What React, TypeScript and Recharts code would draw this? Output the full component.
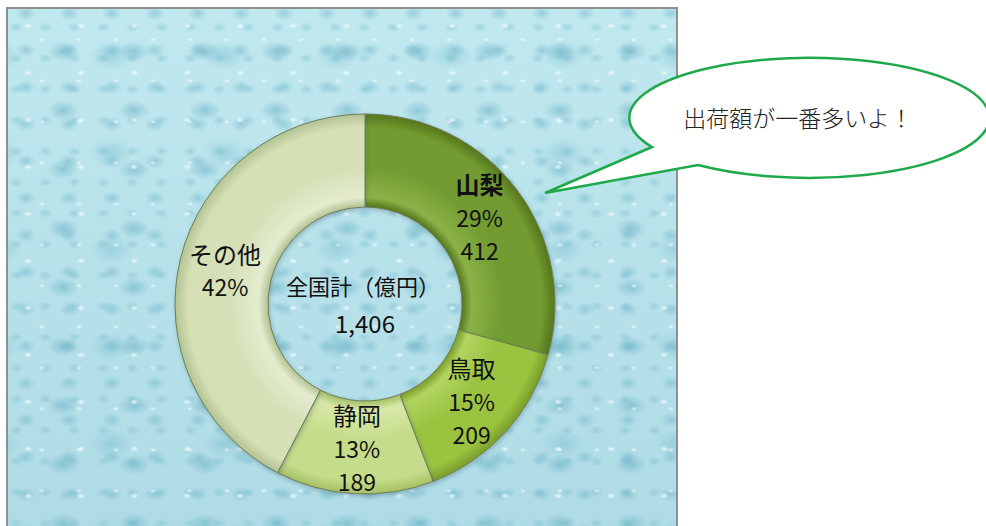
import { Cell, Pie, PieChart } from 'recharts';

const CATEGORIES = ['山梨', '鳥取', '静岡', 'その他'];
const VALUES = [412, 209, 189, 596];
const SHOW_VALUE = [true, true, true, false];
const CENTER_TITLE = '全国計（億円）';
const BUBBLE_TEXT = '出荷額が一番多いよ！';

const data = CATEGORIES.map((name, i) => ({ name, value: VALUES[i], showValue: SHOW_VALUE[i] }));
const TOTAL = VALUES.reduce((a, b) => a + b, 0);

const W = 986;
const H = 526;
const CX = 365;
const CY = 304;
const INNER = 97;
const OUTER = 190;
const LABEL_R = 144;
const FONT = '"Noto Sans CJK JP", "Noto Sans", sans-serif';

// edge / body / highlight per slice, used by the bevel gradients
const SHADES = [
  ['#55751d', '#729c31', '#8bb247'],
  ['#7a9d29', '#9ac341', '#b2d460'],
  ['#a6c066', '#c5dc8a', '#d8e9a8'],
  ['#b3c393', '#d5e0b6', '#e4ecce'],
];

const RAD = Math.PI / 180;

function renderLabel(props: any) {
  const { midAngle, index, value, percent } = props;
  const x = CX + LABEL_R * Math.cos(-midAngle * RAD);
  const y = CY + LABEL_R * Math.sin(-midAngle * RAD);
  const d = data[index];
  const lines = [d.name, `${Math.round(percent * 100)}%`];
  if (d.showValue) lines.push(String(value));
  const step = 33;
  const top = y - ((lines.length - 1) * step) / 2;
  return (
    <g key={`lbl-${index}`}>
      {lines.map((t, k) => (
        <text
          key={k}
          x={x}
          y={top + k * step}
          textAnchor="middle"
          dominantBaseline="central"
          fontFamily={FONT}
          fontSize={k === 0 ? 24 : 23}
          fontWeight={k === 0 && index === 0 ? 700 : 400}
          fill="#111"
        >
          {t}
        </text>
      ))}
    </g>
  );
}

const drop = (w: number, h: number, x: string, y: string, c: string, a: number) =>
  `radial-gradient(ellipse ${w}px ${h}px at ${x} ${y}, rgba(${c},${a}), rgba(${c},0) 72%)`;

const bgStyle: React.CSSProperties = {
  position: 'absolute',
  left: 6,
  top: 7,
  width: 672,
  height: 540,
  border: '2px solid #8f8f8f',
  backgroundColor: '#b6e2ea',
  backgroundImage: [
    drop(6, 4, '38%', '36%', '245,254,255', 0.85),
    drop(5, 3, '62%', '58%', '245,254,255', 0.7),
    drop(22, 14, '45%', '50%', '96,170,190', 0.5),
    drop(14, 10, '30%', '60%', '104,176,196', 0.45),
    drop(30, 20, '55%', '45%', '110,182,200', 0.4),
    drop(10, 7, '70%', '30%', '120,188,204', 0.45),
    'linear-gradient(180deg, #c0e8ef 0%, #aedbe5 100%)',
  ].join(','),
  backgroundSize: '53px 47px, 37px 41px, 71px 59px, 43px 37px, 113px 97px, 29px 31px, 100% 100%',
  backgroundPosition: '0 0, 11px 7px, 23px 13px, 5px 19px, 41px 3px, 17px 9px, 0 0',
  boxSizing: 'border-box',
};

// speech bubble outline: ellipse with a tail pointing at the 山梨 slice
const BUBBLE = { rx: 180, ry: 60 };
const bubblePath =
  `M 652 147 L 545 193 L 698 165 ` +
  `A ${BUBBLE.rx} ${BUBBLE.ry} 0 1 0 652 147 Z`;

export default function App() {
  return (
    <div style={{ position: 'absolute', left: 0, top: 0, width: W, height: H, overflow: 'hidden', background: '#fff' }}>
      <div style={bgStyle} />
      <div style={{ position: 'absolute', left: 0, top: 0 }}>
        <PieChart width={W} height={H} margin={{ top: 0, right: 0, bottom: 0, left: 0 }}>
          <defs>
            {SHADES.map(([edge, body, light], i) => (
              <radialGradient
                key={i}
                id={`bevel-${i}`}
                gradientUnits="userSpaceOnUse"
                cx={CX}
                cy={CY}
                r={OUTER}
              >
                <stop offset={INNER / OUTER} stopColor={edge} />
                <stop offset={(INNER + 10) / OUTER} stopColor={light} />
                <stop offset={0.72} stopColor={body} />
                <stop offset={0.93} stopColor={body} />
                <stop offset={1} stopColor={edge} />
              </radialGradient>
            ))}
            <filter id="soft" x="-10%" y="-10%" width="120%" height="120%">
              <feDropShadow dx="1" dy="2" stdDeviation="2" floodColor="#3b5a66" floodOpacity="0.35" />
            </filter>
          </defs>
          <Pie
            data={data}
            dataKey="value"
            nameKey="name"
            cx={CX}
            cy={CY}
            innerRadius={INNER}
            outerRadius={OUTER}
            startAngle={90}
            endAngle={-270}
            stroke="#6f7f55"
            strokeWidth={1}
            label={renderLabel}
            labelLine={false}
            isAnimationActive={false}
            style={{ filter: 'url(#soft)' }}
          >
            {data.map((d, i) => (
              <Cell key={d.name} fill={`url(#bevel-${i})`} />
            ))}
          </Pie>
          <text
            x={CX - 2}
            y={CY - 19}
            textAnchor="middle"
            dominantBaseline="central"
            fontFamily={FONT}
            fontSize={22}
            fill="#111"
          >
            {CENTER_TITLE}
          </text>
          <text
            x={CX}
            y={CY + 18}
            textAnchor="middle"
            dominantBaseline="central"
            fontFamily={FONT}
            fontSize={24}
            fill="#111"
          >
            {TOTAL.toLocaleString('en-US')}
          </text>
          <path d={bubblePath} fill="#fff" stroke="#1fa94a" strokeWidth={2.5} strokeLinejoin="miter" />
          <text
            x={798}
            y={117}
            textAnchor="middle"
            dominantBaseline="central"
            fontFamily={FONT}
            fontSize={23}
            fontWeight={300}
            fill="#222"
          >
            {BUBBLE_TEXT}
          </text>
        </PieChart>
      </div>
    </div>
  );
}
